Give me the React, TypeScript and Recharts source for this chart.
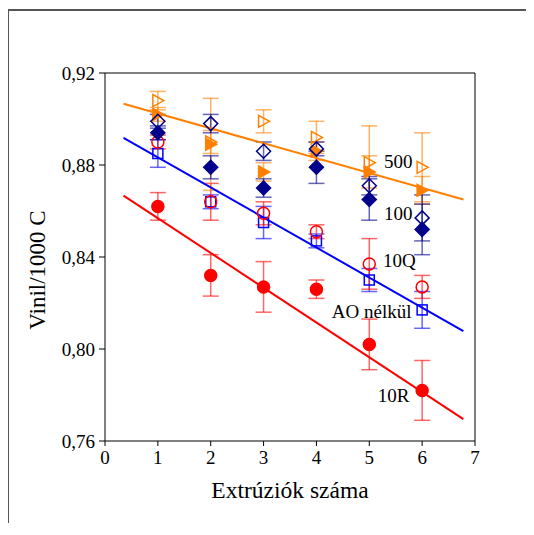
import {
  ComposedChart,
  ErrorBar,
  ReferenceDot,
  Scatter,
  XAxis,
  YAxis,
} from "recharts";

const xs = [1, 2, 3, 4, 5, 6];

// AO nélkül - blue open squares
const aoVals = [0.885, 0.864, 0.855, 0.847, 0.83, 0.817];
const aoErr = [0.006, 0.003, 0.007, 0.003, 0.005, 0.008];
// 10Q - red open circles
const q10Vals = [0.89, 0.864, 0.859, 0.851, 0.837, 0.827];
const q10Err = [0.003, 0.008, 0.005, 0.003, 0.011, 0.005];
// 10R - red filled circles
const r10Vals = [0.862, 0.832, 0.827, 0.826, 0.802, 0.782];
const r10Err = [0.006, 0.009, 0.011, 0.004, 0.011, 0.013];
// 100 - navy diamonds (open / filled)
const d100OpenVals = [0.899, 0.898, 0.886, 0.887, 0.871, 0.857];
const d100OpenErr = [0.003, 0.004, 0.004, 0.003, 0.004, 0.01];
const d100FilledVals = [0.894, 0.879, 0.87, 0.879, 0.865, 0.852];
const d100FilledErr = [0.003, 0.005, 0.004, 0.007, 0.009, 0.011];
// 500 - orange triangles (open / filled)
const t500OpenVals = [0.908, 0.89, 0.899, 0.892, 0.881, 0.879];
const t500OpenErr = [0.004, 0.005, 0.005, 0.007, 0.016, 0.015];
const t500FilledVals = [0.902, 0.889, 0.877, 0.886, 0.877, 0.869];
const t500FilledErr = [0.003, 0.02, 0.004, 0.004, 0.007, 0.006];

// fitted lines (end points)
const fitX = [0.35, 6.78];
const orangeFit = [0.9066, 0.865];
const blueFit = [0.8918, 0.8078];
const redFit = [0.8667, 0.7695];

const xTicks = [0, 1, 2, 3, 4, 5, 6, 7];
const yTicks = [0.76, 0.8, 0.84, 0.88, 0.92];

const labelTexts = ["500", "100", "10Q", "AO nélkül", "10R"];
const labelX = [5.28, 5.28, 5.26, 4.29, 5.16];
const labelY = [0.8817, 0.8591, 0.8383, 0.8161, 0.7796];

const FONT = "Liberation Serif, Times New Roman, serif";
const ORANGE = "#ff8000";
const NAVY = "#00008b";
const BLUE = "#0000ff";
const RED = "#ff0000";
const serif = { fontFamily: FONT };

const pts = (vals: number[], errs: number[]) =>
  xs.map((x, i) => ({ x, y: vals[i], err: errs[i] }));
const fit = (vals: number[]) => fitX.map((x, i) => ({ x, y: vals[i] }));

const circle = (color: string, filled: boolean) => (p: any) => (
  <circle
    cx={p.cx}
    cy={p.cy}
    r={6}
    fill={filled ? color : "none"}
    stroke={color}
    strokeWidth={1.5}
  />
);
const square = (color: string) => (p: any) => (
  <rect
    x={p.cx - 5}
    y={p.cy - 5}
    width={10}
    height={10}
    fill="none"
    stroke={color}
    strokeWidth={1.5}
  />
);
const diamond = (color: string, filled: boolean) => (p: any) => (
  <polygon
    points={`${p.cx},${p.cy - 7} ${p.cx + 7},${p.cy} ${p.cx},${p.cy + 7} ${p.cx - 7},${p.cy}`}
    fill={filled ? color : "none"}
    stroke={color}
    strokeWidth={1.5}
  />
);
const triangle = (color: string, filled: boolean) => (p: any) => (
  <polygon
    points={`${p.cx - 5},${p.cy - 6} ${p.cx + 6},${p.cy} ${p.cx - 5},${p.cy + 6}`}
    fill={filled ? color : "none"}
    stroke={color}
    strokeWidth={1.5}
  />
);

const seriesList = [
  { name: "AO nélkül", data: pts(aoVals, aoErr), color: BLUE, shape: square(BLUE) },
  { name: "10Q", data: pts(q10Vals, q10Err), color: RED, shape: circle(RED, false) },
  { name: "10R", data: pts(r10Vals, r10Err), color: RED, shape: circle(RED, true) },
  { name: "500 filled", data: pts(t500FilledVals, t500FilledErr), color: ORANGE, shape: triangle(ORANGE, true) },
  { name: "500 open", data: pts(t500OpenVals, t500OpenErr), color: ORANGE, shape: triangle(ORANGE, false) },
  { name: "100 filled", data: pts(d100FilledVals, d100FilledErr), color: NAVY, shape: diamond(NAVY, true) },
  { name: "100 open", data: pts(d100OpenVals, d100OpenErr), color: NAVY, shape: diamond(NAVY, false) },
];

const fitLines = [
  { data: fit(orangeFit), color: ORANGE },
  { data: fit(blueFit), color: BLUE },
  { data: fit(redFit), color: RED },
];

const XTick = (p: any) => (
  <text
    x={p.x}
    y={p.y + 15}
    textAnchor="middle"
    fontSize={19}
    fill="#000"
    style={serif}
  >
    {p.payload.value}
  </text>
);

const YTick = (p: any) => (
  <text
    x={p.x}
    y={p.y}
    textAnchor="end"
    dominantBaseline="central"
    fontSize={19}
    fill="#000"
    style={serif}
  >
    {Number(p.payload.value).toFixed(2).replace(".", ",")}
  </text>
);

export default function App() {
  return (
    <div style={{ position: "relative", width: 518, height: 515 }}>
      <div
        style={{
          position: "absolute",
          left: -1,
          top: 1,
          width: 518,
          height: 524,
          borderTop: "2px solid #555",
          borderLeft: "2px solid #555",
        }}
      />
      <ComposedChart
        width={518}
        height={515}
        margin={{ top: 65, right: 51, bottom: 22, left: 10 }}
        style={{ position: "absolute", left: 0, top: 0 }}
      >
        <XAxis
          xAxisId="b"
          type="number"
          dataKey="x"
          domain={[0, 7]}
          ticks={xTicks}
          allowDataOverflow
          height={60}
          tickSize={5}
          stroke="#000"
          tick={XTick}
          tickMargin={3}
          label={{
            content: (props: any) => {
              const vb = props.viewBox;
              return (
                <text
                  x={vb.x + vb.width / 2}
                  y={vb.y + 57}
                  textAnchor="middle"
                  fontSize={23.5}
                  fill="#000"
                  style={serif}
                >
                  Extrúziók száma
                </text>
              );
            },
          }}
        />
        <XAxis
          xAxisId="t"
          orientation="top"
          type="number"
          dataKey="x"
          domain={[0, 7]}
          ticks={xTicks}
          allowDataOverflow
          mirror
          tick={false}
          tickSize={4}
          stroke="#000"
        />
        <YAxis
          yAxisId="l"
          type="number"
          dataKey="y"
          domain={[0.76, 0.92]}
          ticks={yTicks}
          allowDataOverflow
          width={87}
          tickSize={6}
          stroke="#000"
          tick={YTick}
          tickMargin={4}
          label={{
            content: (props: any) => {
              const vb = props.viewBox;
              const cx = 29;
              const cy = vb.y + vb.height / 2 + 13;
              return (
                <text
                  x={cx}
                  y={cy}
                  transform={`rotate(-90 ${cx} ${cy})`}
                  textAnchor="middle"
                  dominantBaseline="central"
                  fontSize={23}
                  fill="#000"
                  style={serif}
                >
                  Vinil/1000 C
                </text>
              );
            },
          }}
        />
        <YAxis
          yAxisId="r"
          orientation="right"
          type="number"
          dataKey="y"
          domain={[0.76, 0.92]}
          ticks={yTicks}
          allowDataOverflow
          mirror
          tick={false}
          tickSize={4}
          stroke="#000"
        />
        {fitLines.map((f, i) => (
          <Scatter
            key={"fit" + i}
            xAxisId="b"
            yAxisId="l"
            dataKey="y"
            data={f.data}
            line={{ stroke: f.color, strokeWidth: 2 }}
            shape={() => <g />}
            isAnimationActive={false}
          />
        ))}
        {seriesList.map((s) => (
          <Scatter
            key={s.name}
            name={s.name}
            xAxisId="b"
            yAxisId="l"
            dataKey="y"
            data={s.data}
            fill={s.color}
            shape={s.shape}
            isAnimationActive={false}
          >
            <ErrorBar
              dataKey="err"
              direction="y"
              width={8}
              stroke={s.color}
              strokeOpacity={0.6}
              strokeWidth={1.5}
              isAnimationActive={false}
            />
          </Scatter>
        ))}
        {labelTexts.map((t, i) => (
          <ReferenceDot
            key={t}
            xAxisId="b"
            yAxisId="l"
            x={labelX[i]}
            y={labelY[i]}
            r={0}
            stroke="none"
            fill="none"
            label={{
              content: (props: any) => {
                const vb = props.viewBox;
                return (
                  <text
                    x={vb.x}
                    y={vb.y}
                    dominantBaseline="central"
                    fontSize={19}
                    fill="#000"
                    style={serif}
                  >
                    {t}
                  </text>
                );
              },
            }}
          />
        ))}
      </ComposedChart>
    </div>
  );
}
